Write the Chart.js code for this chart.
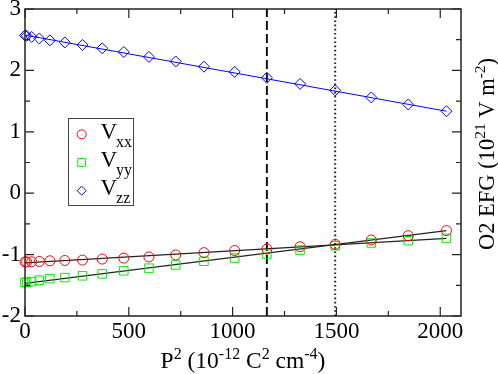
<!DOCTYPE html>
<html><head><meta charset="utf-8">
<script src="https://cdn.jsdelivr.net/npm/chart.js@4/dist/chart.umd.min.js"></script>
<style>html,body{margin:0;padding:0;background:#fff;}#wrap{width:498px;height:374px;}</style>
</head><body><div id="wrap"><canvas id="c" width="498" height="374"></canvas></div>
<script>
// ---- data ----
const pSquared = [0, 8, 32, 69, 120, 192, 277, 372, 476, 597, 726, 862, 1010, 1165, 1325, 1494, 1668, 1846, 2030];
const vxx = [-1.12, -1.118, -1.117, -1.112, -1.101, -1.096, -1.09, -1.073, -1.057, -1.038, -1.006, -0.968, -0.934, -0.910, -0.872, -0.834, -0.762, -0.692, -0.610];
const vyy = [-1.456, -1.45, -1.440, -1.417, -1.392, -1.374, -1.346, -1.314, -1.265, -1.221, -1.169, -1.108, -1.057, -0.991, -0.926, -0.856, -0.811, -0.774, -0.736];
const vzz = [2.57, 2.565, 2.545, 2.52, 2.49, 2.455, 2.415, 2.36, 2.30, 2.22, 2.145, 2.06, 1.975, 1.88, 1.78, 1.675, 1.56, 1.445, 1.335];
const fitX = [0, 2030];
const fitVxx = [-1.135, -0.735];
const fitVyy = [-1.47, -0.61];
const fitVzz = [2.575, 1.335];
const dashedX = 1165;
const dottedX = 1494;
const xTicks = [0, 500, 1000, 1500, 2000];
const yTicks = [-2, -1, 0, 1, 2, 3];
const xRange = [0, 2100];
const yRange = [-2, 3];
const xMinorStep = 250;
const yMinorStep = 0.5;
const seriesSubs = ['xx', 'yy', 'zz'];

const FONT = 'Liberation Serif';
const pts = (xs, ys) => xs.map((x, i) => ({x: x, y: ys[i]}));
const vline = (x) => [{x: x, y: yRange[0]}, {x: x, y: yRange[1]}];

const markerDs = (data, style, r, color) => ({
  data: data, showLine: false, pointStyle: style, pointRadius: r, pointHoverRadius: r,
  pointBorderColor: color, pointBackgroundColor: 'rgba(0,0,0,0)', pointBorderWidth: 1,
  borderColor: color, backgroundColor: 'rgba(0,0,0,0)', clip: false
});
const lineDs = (data, color, w, dash) => ({
  data: data, showLine: true, pointRadius: 0, borderColor: color, borderWidth: w,
  borderDash: dash || [], fill: false, tension: 0
});

const datasets = [
  markerDs(pts(pSquared, vxx), 'circle', 5, '#ff0000'),
  markerDs(pts(pSquared, vyy), 'rect', 6, '#00ee00'),
  markerDs(pts(pSquared, vzz), 'rectRot', 5.5, '#0000ff'),
  lineDs(pts(fitX, fitVxx), '#222', 1.2),
  lineDs(pts(fitX, fitVyy), '#222', 1.2),
  lineDs(pts(fitX, fitVzz), '#0000ff', 1),
  lineDs(vline(dashedX), '#111', 2, [9, 4]),
  lineDs(vline(dottedX), '#222', 2, [1.6, 2.6])
];

function drawRich(ctx, parts, x, y, size, supSize) {
  let total = 0;
  parts.forEach(p => {
    ctx.font = (p.s ? supSize : size) + 'px "' + FONT + '"';
    p.w = ctx.measureText(p.t).width; total += p.w;
  });
  let cx = x - total / 2;
  parts.forEach(p => {
    ctx.font = (p.s ? supSize : size) + 'px "' + FONT + '"';
    const dy = p.s === 'sup' ? -9 : (p.s === 'sub' ? 7 : 0);
    ctx.fillText(p.t, cx, y + dy);
    cx += p.w;
  });
}

const decor = {
  id: 'decor',
  afterDraw(chart) {
    const ctx = chart.ctx, a = chart.chartArea;
    const xs = chart.scales.x, ys = chart.scales.y;
    ctx.save();
    ctx.strokeStyle = '#222'; ctx.lineWidth = 1.5;
    ctx.strokeRect(a.left, a.top, a.right - a.left, a.bottom - a.top);
    ctx.lineWidth = 1.2;
    ctx.beginPath();
    for (let v = xRange[0]; v <= xRange[1] + 1e-9; v += xMinorStep) {
      const px = xs.getPixelForValue(v);
      const len = (v % 500 === 0) ? 9 : 5;
      ctx.moveTo(px, a.bottom); ctx.lineTo(px, a.bottom - len);
      ctx.moveTo(px, a.top); ctx.lineTo(px, a.top + len);
    }
    for (let v = yRange[0]; v <= yRange[1] + 1e-9; v += yMinorStep) {
      const py = ys.getPixelForValue(v);
      const len = (Math.abs(v - Math.round(v)) < 1e-9) ? 9 : 5;
      ctx.moveTo(a.left, py); ctx.lineTo(a.left + len, py);
      ctx.moveTo(a.right, py); ctx.lineTo(a.right - len, py);
    }
    ctx.stroke();

    // x-axis title
    ctx.fillStyle = '#000'; ctx.textBaseline = 'alphabetic'; ctx.textAlign = 'left';
    drawRich(ctx, [{t: 'P'}, {t: '2', s: 'sup'}, {t: ' (10'}, {t: '-12', s: 'sup'}, {t: ' C'}, {t: '2', s: 'sup'}, {t: ' cm'}, {t: '-4', s: 'sup'}, {t: ')'}],
      (a.left + a.right) / 2, 368, 23.5, 16);

    // right-axis title
    ctx.save();
    ctx.translate(494, 154);
    ctx.rotate(-Math.PI / 2);
    drawRich(ctx, [{t: 'O2 EFG (10'}, {t: '21', s: 'sup'}, {t: ' V m'}, {t: '-2', s: 'sup'}, {t: ')'}], 0, 0, 22.5, 15.5);
    ctx.restore();

    // legend
    ctx.strokeStyle = '#444'; ctx.lineWidth = 1;
    ctx.strokeRect(68.5, 118.5, 65, 87);
    for (let i = 0; i < 3; i++) {
      const ds = chart.data.datasets[i];
      const my = 134.3 + 28.2 * i;
      ctx.strokeStyle = ds.pointBorderColor; ctx.fillStyle = 'rgba(0,0,0,0)'; ctx.lineWidth = 1;
      Chart.helpers.drawPoint(ctx, {pointStyle: ds.pointStyle, radius: i === 1 ? 5.5 : 4.5, rotation: 0, borderWidth: 1}, 81.7, my);
      ctx.fillStyle = '#000';
      ctx.font = '23px "' + FONT + '"';
      ctx.fillText('V', 100.5, 138.5 + 28.2 * i);
      const w = ctx.measureText('V').width;
      ctx.font = '16px "' + FONT + '"';
      ctx.fillText(seriesSubs[i], 100.5 + w - 1, 146.5 + 28.2 * i);
    }
    ctx.restore();
  }
};

new Chart(document.getElementById('c'), {
  type: 'scatter',
  data: {datasets: datasets},
  options: {
    responsive: false, animation: false, devicePixelRatio: 1,
    layout: {padding: {top: 9, right: 37, left: 0, bottom: 0}},
    plugins: {legend: {display: false}, tooltip: {enabled: false}},
    scales: {
      x: {
        type: 'linear', position: 'bottom', min: xRange[0], max: xRange[1],
        grid: {display: false, drawTicks: false}, border: {display: false},
        ticks: {font: {family: FONT, size: 23}, color: '#000', padding: 2, autoSkip: false, maxRotation: 0,
                callback: v => String(v)},
        afterBuildTicks: s => { s.ticks = xTicks.map(v => ({value: v})); },
        afterFit: s => { s.height = 58; s.paddingLeft = 0; s.paddingRight = 0; }
      },
      y: {
        type: 'linear', position: 'left', min: yRange[0], max: yRange[1],
        grid: {display: false, drawTicks: false}, border: {display: false},
        ticks: {font: {family: FONT, size: 23}, color: '#000', padding: 4, autoSkip: false,
                callback: v => String(v)},
        afterBuildTicks: s => { s.ticks = yTicks.map(v => ({value: v})); },
        afterFit: s => { s.width = 25; s.paddingTop = 0; s.paddingBottom = 0; }
      }
    }
  },
  plugins: [decor]
});
</script></body></html>
